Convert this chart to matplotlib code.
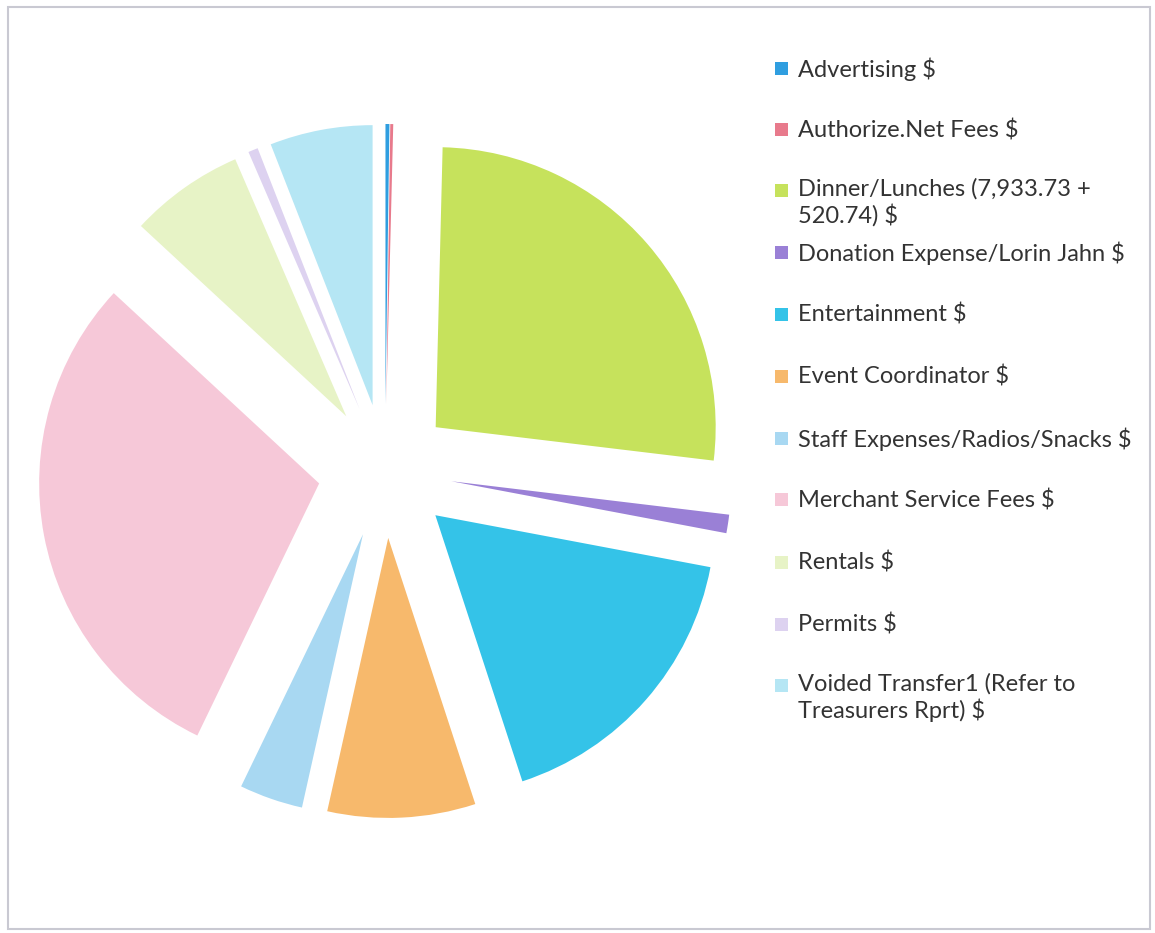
import matplotlib.pyplot as plt
from matplotlib.patches import Rectangle

categories = [
    "Advertising $",
    "Authorize.Net Fees $",
    "Dinner/Lunches (7,933.73 +\n520.74) $",
    "Donation Expense/Lorin Jahn $",
    "Entertainment $",
    "Event Coordinator $",
    "Staff Expenses/Radios/Snacks $",
    "Merchant Service Fees $",
    "Rentals $",
    "Permits $",
    "Voided Transfer1 (Refer to\nTreasurers Rprt) $",
]
amounts = [72, 54, 8454.47, 340, 5420, 2720, 1170, 9480, 2110, 180, 1890]
colors = ["#2f9ee0", "#e87a8c", "#c6e25c", "#9a80d6", "#34c3e8", "#f7b96c",
          "#a8d8f2", "#f6c8d8", "#e7f3c6", "#ddd2f0", "#b5e6f4"]

W, H = 1155, 933
fig = plt.figure(figsize=(W / 100, H / 100), dpi=100)
ax = fig.add_axes([0, 0, 1, 1])

# pie with every slice pulled out from the centre (explode is in data units here)
ax.pie(amounts, colors=colors, startangle=90, counterclock=False,
       center=(385, H - 471), radius=280, explode=[67] * len(amounts),
       wedgeprops={"linewidth": 0}, frame=True)
ax.set_xlim(0, W)
ax.set_ylim(0, H)
ax.set_aspect("equal")
ax.axis("off")

# outer frame of the chart
ax.add_patch(Rectangle((8, H - 929), 1142, 922, fill=False,
                       edgecolor="#c9c9d2", linewidth=1.5))

# legend, drawn by hand to keep Excel's fixed row spacing
rows_y = [69, 130, 191, 253, 315, 377, 439, 500, 563, 625, 686]
for label, col, y in zip(categories, colors, rows_y):
    ax.add_patch(Rectangle((775, H - y - 6), 13, 13, facecolor=col,
                           edgecolor="none"))
    if "\n" in label:
        ax.text(798, H - y + 13, label, fontsize=17, family="Lato",
                color="#333333", va="top", linespacing=1.2)
    else:
        ax.text(798, H - y, label, fontsize=17, family="Lato",
                color="#333333", va="center")

fig.savefig("out.png", dpi=100, facecolor="white")
